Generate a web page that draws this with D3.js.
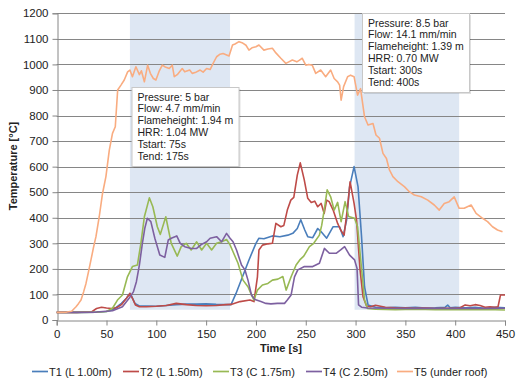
<!DOCTYPE html>
<html><head><meta charset="utf-8">
<script src="https://cdnjs.cloudflare.com/ajax/libs/d3/7.8.5/d3.min.js"></script>
<style>body{margin:0;background:#fff}svg{display:block;font-family:"Liberation Sans",Arial,sans-serif}</style>
</head><body><svg id="c" width="517" height="381"></svg>
<script>
const xTicks = [0,50,100,150,200,250,300,350,400,450];
const yTicks = [0,100,200,300,400,500,600,700,800,900,1000,1100,1200];
const seriesNames = ["T1 (L 1.00m)","T2 (L 1.50m)","T3 (C 1.75m)","T4 (C 2.50m)","T5 (under roof)"];
const seriesColors = ["#4a7ebb","#be4b48","#98b954","#7d60a0","#f9ac80"];

const T1_t = [0,20,40,50,55,60,65,70,73.5,75,78.5,83,90,100,110,120,130,140,150,160,170,175,180,186.5,193,200,203,208,216.5,224,232,237,241.5,245,249,252,257,262,265.5,271,277.5,284,287.5,291,294,298.5,302.5,306,309,312.5,320,330,340,350,360,370,380,390,392.5,395,400,410,420,430,440,450];
const T1_v = [30,30,31,33,38,50,65,85,104,95,65,55,55,54,57,60,62,62,63,61,60,60,104,169,235,300,320,318,329,326,332,339,358,392,352,326,322,358,345,320,365,365,326,391,521,600,521,326,130,59,50,48,50,48,50,47,48,50,58,48,50,48,50,46,50,48];

const T2_t = [0,20,35,40,45,50,55,60,65,70,73.5,76,79,83,90,100,110,120,130,140,150,160,170,175,184,194,198,201.5,203,206.5,212,216.5,220,225,228,231.5,235,238,241.5,244.5,248.5,252,255.5,259,262,265.5,268.5,271,273.5,277.5,282,285,288.5,292,294.5,298.5,301,304.5,307.5,311,315,320,330,340,350,360,370,380,390,400,405,410,415,420,425,430,435,440,443,445.5,450];
const T2_v = [30,30,32,45,50,47,45,48,60,85,104,85,59,52,52,54,57,65,60,57,56,57,60,61,72,78,72,169,274,293,298,300,378,365,370,430,469,480,567,615,548,476,460,465,443,456,417,469,463,430,378,352,332,443,541,456,391,196,91,55,52,58,50,48,47,46,47,45,46,46,48,59,56,60,57,50,52,50,52,98,98];

const T3_t = [0,20,40,50,56,61,66,71,76,81,84.5,88,93,96.5,101,104,109.5,115,121,125,130,135,140.5,145.5,150.5,155.5,160.5,165.5,170.5,174,177,182,187,192,195.5,198,201.5,206.5,212,216.5,222,227,230.3,235.3,240.3,244,248,253.7,258,263.7,266,268.5,271.5,275,278.5,282,285.5,289.5,293,299,302,305.5,309,312,320,340,360,380,400,420,440,450];
const T3_v = [30,30,31,33,46,78,98,169,209,215,300,404,478,443,365,335,404,300,250,287,300,274,306,274,300,274,300,306,315,294,267,222,156,130,98,78,117,137,143,156,160,170,117,169,215,235,250,287,300,332,370,430,509,482,430,460,385,463,405,398,365,222,78,45,42,40,42,40,41,40,40,39];

const T4_t = [0,20,40,56,66,72.7,77,80,83,86,88.5,91,94.5,98.5,103.5,108.5,112,115,120.5,124,128.5,135,140.5,145,150.5,154,160.5,165.5,170.5,174,177,180.5,185.5,189,192,195.5,199,205,210,215,221.5,228.7,231.5,235.3,238.7,242,248.7,257,263.7,268.7,273.7,280.5,285,289,294,299,301.5,303,306,312,330,350,370,390,410,430,450];
const T4_v = [30,30,31,36,52,85,110,150,215,300,360,398,385,320,254,245,313,320,329,300,287,280,280,295,306,320,326,306,339,320,306,274,215,196,156,98,80,72,65,63,65,65,78,98,169,196,209,209,222,280,261,261,274,287,254,235,202,59,50,47,46,45,46,45,46,45,46];

const T5_t = [0,10,15,19.4,22,24.4,27,29.4,32,34.4,37,39.4,42.7,46,49.4,52.8,56,58.8,61.2,64.5,67.8,71.2,73.5,76,79.5,83,85,88,91.3,94,97,99.6,103,106,109,113,116,118,121,126,128.5,133.5,136,139,144,147,150.5,154,157,160.5,164,167,170,173,176.5,179,183,186,190,193,196,200,203,208,212,216.5,220,225,230,233,236.5,241,243,246.5,250,253,256.5,260,265,270,275,278.5,282,284,285.5,288,292,295,298.5,302,305,309,312.5,317.5,320.5,324,327.5,331,334,337.5,342.5,349,354,359,366,372.5,379,384,389,394,399,404,409,416,421,427.5,432.5,437.5,442.5,447.5,450];
const T5_v = [30,31,34,52,65,78,110,143,190,235,285,326,404,495,561,665,730,756,900,919,939,971,978,952,991,960,975,932,997,965,945,939,975,997,990,984,997,952,960,984,971,978,965,968,978,970,984,980,1004,1030,1040,1043,1038,1033,1076,1080,1089,1085,1075,1056,1065,1069,1076,1056,1060,1063,1045,1024,1004,1010,1017,1010,1015,1024,997,1000,997,965,978,952,978,945,932,919,860,913,952,958,952,880,905,795,763,769,724,711,652,632,587,561,541,522,502,489,482,469,450,430,456,463,482,437,437,450,417,398,385,365,352,345];

const shadeStart = [73.5,299];
const shadeEnd = [174,404];
const shadeLow = 40;
const note1 = ["Pressure: 5 bar","Flow: 4.7 mm/min","Flameheight: 1.94 m","HRR: 1.04 MW","Tstart: 75s","Tend: 175s"];
const note2 = ["Pressure: 8.5 bar","Flow: 14.1 mm/min","Flameheight: 1.39 m","HRR: 0.70 MW","Tstart: 300s","Tend: 400s"];

const svg = d3.select("#c");
const L = 56.7, R = 505, T = 13.3, B = 320;
const x = d3.scaleLinear().domain([0,450]).range([L,R]);
const y = d3.scaleLinear().domain([0,1200]).range([B,T]);
const grey = "#868686";

// shading
shadeStart.forEach((s,i)=>{
  svg.append("rect").attr("x",x(s)).attr("y",y(1200)).attr("width",x(shadeEnd[i])-x(s))
    .attr("height",y(shadeLow)-y(1200)).attr("fill","#dee7f3");
});
// gridlines
svg.append("g").selectAll("line").data(yTicks.filter(d=>d>0)).join("line")
  .attr("x1",L).attr("x2",R).attr("y1",d=>Math.round(y(d))+0.5).attr("y2",d=>Math.round(y(d))+0.5)
  .attr("stroke",grey).attr("stroke-width",1);

// axes
const yAxis = svg.append("g").attr("transform",`translate(${Math.round(L)+0.5},0)`)
  .call(d3.axisLeft(y).tickValues(yTicks).tickFormat(d3.format("d")).tickSize(5).tickPadding(4));
const xAxis = svg.append("g").attr("transform",`translate(0,${B+0.5})`)
  .call(d3.axisBottom(x).tickValues(xTicks).tickFormat(d3.format("d")).tickSize(5).tickPadding(4));
[yAxis,xAxis].forEach(a=>{
  a.selectAll("path,line").attr("stroke",grey);
  a.selectAll("text").attr("fill","#222").style("font-size","11.5px").style("font-family","'Liberation Sans',Arial,sans-serif");
});

// lines
const allT = [T1_t,T2_t,T3_t,T4_t,T5_t];
const allV = [T1_v,T2_v,T3_v,T4_v,T5_v];
const line = d3.line().x(d=>x(d[0])).y(d=>y(d[1])).curve(d3.curveLinear);
allT.forEach((ts,i)=>{
  const pts = ts.map((t,j)=>[t,allV[i][j]]);
  svg.append("path").datum(pts).attr("d",line).attr("fill","none")
    .attr("stroke",seriesColors[i]).attr("stroke-width",1.6).attr("stroke-linejoin","round");
});

// annotation boxes
function note(lines, bx, by, bw, bh){
  svg.append("rect").attr("x",bx+2).attr("y",by+2).attr("width",bw).attr("height",bh).attr("fill","rgba(0,0,0,0.12)");
  svg.append("rect").attr("x",bx+0.5).attr("y",by+0.5).attr("width",bw).attr("height",bh).attr("fill","#fff").attr("stroke","#c8c8c8");
  svg.append("g").selectAll("text").data(lines).join("text")
    .attr("x",bx+6).attr("y",(d,i)=>by+13.5+i*11.9).text(d=>d)
    .style("font-size","10.5px").attr("fill","#222");
}
note(note1, 131.5, 87, 107, 79);
note(note2, 362, 13, 107, 79);

// axis titles
svg.append("text").attr("transform","translate(17,166) rotate(-90)").attr("text-anchor","middle")
  .style("font-size","11px").style("font-weight","bold").attr("fill","#222").text("Temperature [°C]");
svg.append("text").attr("x",281).attr("y",352).attr("text-anchor","middle")
  .style("font-size","11px").style("font-weight","bold").attr("fill","#222").text("Time [s]");

// legend
const legX = [32,123,213,306,397];
const lg = svg.append("g");
seriesNames.forEach((n,i)=>{
  lg.append("line").attr("x1",legX[i]).attr("x2",legX[i]+16).attr("y1",371.5).attr("y2",371.5)
    .attr("stroke",seriesColors[i]).attr("stroke-width",1.7);
  lg.append("text").attr("x",legX[i]+17).attr("y",375.5).text(n).style("font-size","11px").attr("fill","#222");
});
</script></body></html>
